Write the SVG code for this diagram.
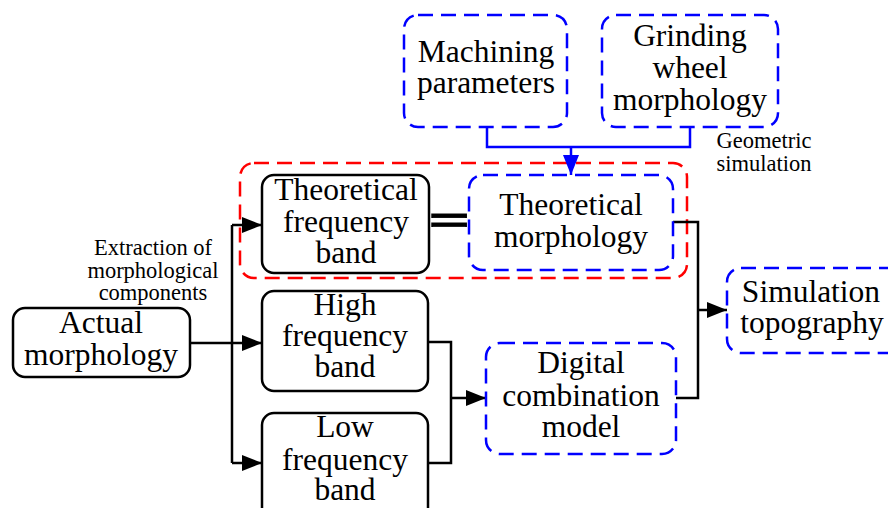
<svg xmlns="http://www.w3.org/2000/svg" width="888" height="508" viewBox="0 0 888 508">
<defs>
<style>
.b{fill:#fff;stroke:#000;stroke-width:2.5}
.d{fill:#fff;stroke:#0000ff;stroke-width:2.5;stroke-dasharray:15 8}
.r{fill:none;stroke:#ff0000;stroke-width:2.5;stroke-dasharray:15 8}
.t{font-family:"Liberation Serif","Times New Roman",serif;font-size:31.5px;fill:#000;text-anchor:middle}
.s{font-family:"Liberation Serif","Times New Roman",serif;font-size:22.5px;fill:#000;text-anchor:middle}
.c{fill:none;stroke:#000;stroke-width:2.5}
.cb{fill:none;stroke:#0000ff;stroke-width:2.5}
</style>
<marker id="ahk" viewBox="0 0 20 16" refX="20" refY="8" markerWidth="20" markerHeight="16" markerUnits="userSpaceOnUse" orient="auto"><path d="M0,0 L20,8 L0,16 z" fill="#000"/></marker>
<marker id="ahb" viewBox="0 0 20 16" refX="20" refY="8" markerWidth="20" markerHeight="16" markerUnits="userSpaceOnUse" orient="auto"><path d="M0,0 L20,8 L0,16 z" fill="#0000ff"/></marker>
</defs>

<g id="group-red">
<rect class="r" x="240" y="163" width="447" height="115" rx="14"/>
</g>

<g id="connectors">
<path class="cb" d="M487,127 V147 H690 V127"/>
<path class="cb" d="M571,147 V175" marker-end="url(#ahb)"/>
<path class="c" d="M232,225 V463"/>
<path class="c" d="M232,225 H262" marker-end="url(#ahk)"/>
<path class="c" d="M190,343 H262" marker-end="url(#ahk)"/>
<path class="c" d="M232,463 H262" marker-end="url(#ahk)"/>
<path class="c" d="M428,342 H451 V463 H428"/>
<path class="c" d="M451,398 H486" marker-end="url(#ahk)"/>
<path class="c" d="M673,222 H698 V398 H675"/>
<path class="c" d="M698,310 H727" marker-end="url(#ahk)"/>
</g>

<g id="machining">
<rect class="d" x="404" y="15" width="163" height="112" rx="14"/>
<text class="t" x="486" y="62">Machining</text>
<text class="t" x="486" y="93">parameters</text>
</g>

<g id="grinding">
<rect class="d" x="602" y="15" width="176" height="112" rx="14"/>
<text class="t" x="690" y="46">Grinding</text>
<text class="t" x="690" y="78">wheel</text>
<text class="t" x="690" y="110">morphology</text>
</g>

<g id="geometric-label">
<text class="s" x="764" y="148">Geometric</text>
<text class="s" x="764" y="171">simulation</text>
</g>

<g id="theoretical-band">
<rect class="b" x="262" y="175" width="167" height="98" rx="12"/>
<text class="t" x="346" y="200">Theoretical</text>
<text class="t" x="346" y="232">frequency</text>
<text class="t" x="346" y="263">band</text>
</g>

<g id="equals">
<text transform="translate(449,232) scale(2,1)" x="0" y="0" style="font-family:'Liberation Sans',Arial,sans-serif;font-size:34px;font-weight:bold;text-anchor:middle;fill:#000;stroke:#000;stroke-width:0.8">=</text>
</g>

<g id="theoretical-morph">
<rect class="d" x="469" y="175" width="204" height="95" rx="14"/>
<text class="t" x="571" y="215">Theoretical</text>
<text class="t" x="571" y="247">morphology</text>
</g>

<g id="extraction-label">
<text class="s" x="153" y="255">Extraction of</text>
<text class="s" x="153" y="278">morphological</text>
<text class="s" x="153" y="300">components</text>
</g>

<g id="actual">
<rect class="b" x="13" y="308" width="177" height="69" rx="12"/>
<text class="t" x="101" y="333">Actual</text>
<text class="t" x="101" y="365">morphology</text>
</g>

<g id="high-band">
<rect class="b" x="262" y="291" width="166" height="100" rx="12"/>
<text class="t" x="345" y="315">High</text>
<text class="t" x="345" y="346">frequency</text>
<text class="t" x="345" y="377">band</text>
</g>

<g id="low-band">
<rect class="b" x="262" y="413" width="166" height="110" rx="12"/>
<text class="t" x="345" y="437">Low</text>
<text class="t" x="345" y="470">frequency</text>
<text class="t" x="345" y="500">band</text>
</g>

<g id="digital">
<rect class="d" x="486" y="343" width="190" height="111" rx="14"/>
<text class="t" x="581" y="373">Digital</text>
<text class="t" x="581" y="406">combination</text>
<text class="t" x="581" y="437">model</text>
</g>

<g id="simulation">
<rect class="d" x="727" y="268" width="180" height="85" rx="14"/>
<text class="t" x="811" y="302">Simulation</text>
<text class="t" x="812" y="333">topography</text>
</g>
</svg>
